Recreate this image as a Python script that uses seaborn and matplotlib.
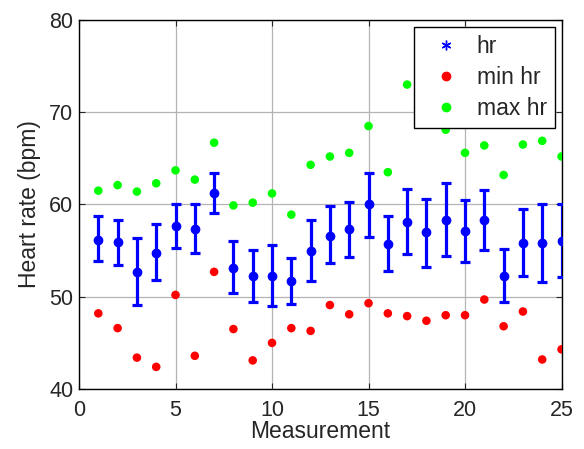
import numpy as np
import pandas as pd
import matplotlib
matplotlib.use("Agg")
import matplotlib.pyplot as plt
import seaborn as sns
from matplotlib.lines import Line2D

measurement = list(range(1, 26))
hr = [56.2, 55.9, 52.7, 54.7, 57.7, 57.3, 61.2, 53.1, 52.2, 52.3, 51.7, 55.0,
      56.6, 57.3, 60.0, 55.7, 58.1, 57.0, 58.3, 57.1, 58.3, 52.3, 55.8, 55.8, 56.0]
hr_upper = [58.7, 58.3, 56.4, 57.9, 60.1, 60.0, 63.4, 56.0, 55.1, 55.6, 54.2, 58.3,
            59.8, 60.3, 63.4, 58.7, 61.7, 60.6, 62.3, 60.5, 61.6, 55.2, 59.5, 60.0, 60.1]
hr_lower = [53.9, 53.4, 49.1, 51.8, 55.3, 54.7, 59.1, 50.4, 49.4, 49.0, 49.2, 51.7,
            53.7, 54.3, 56.5, 52.8, 54.6, 53.2, 54.4, 53.8, 55.1, 49.4, 52.3, 51.6, 52.1]
min_hr = [48.2, 46.6, 43.4, 42.4, 50.2, 43.6, 52.7, 46.5, 43.1, 45.0, 46.6, 46.3,
          49.1, 48.1, 49.3, 48.2, 47.9, 47.4, 48.0, 48.0, 49.7, 46.8, 48.4, 43.2, 44.3]
max_hr = [61.5, 62.1, 61.4, 62.3, 63.7, 62.7, 66.7, 59.9, 60.2, 61.2, 58.9, 64.3,
          65.2, 65.6, 68.5, 63.5, 73.0, 71.5, 68.1, 65.6, 66.4, 63.2, 66.5, 66.9, 65.2]
xticks = [0, 5, 10, 15, 20, 25]
yticks = [40, 50, 60, 70, 80]

df = pd.DataFrame({"Measurement": measurement, "hr": hr, "lo": hr_lower,
                   "hi": hr_upper, "min hr": min_hr, "max hr": max_hr})

sns.set_theme(style="ticks")
plt.rcParams['font.family'] = ['Liberation Sans', 'DejaVu Sans']

fig = plt.figure(figsize=(5.84, 4.49), dpi=100)
ax = fig.add_axes([0.1353, 0.1336, 0.8262, 0.8219])

ax.grid(True, color="#b4b4b4", linewidth=0.9, zorder=0)
ax.set_axisbelow(True)

yerr = [df["hr"] - df["lo"], df["hi"] - df["hr"]]
ax.errorbar(df["Measurement"], df["hr"], yerr=yerr, fmt="o", color="#0000ff",
            ecolor="#0000ff", elinewidth=2.3, capsize=3.3, capthick=2.3,
            markersize=6, zorder=3)
sns.scatterplot(data=df, x="Measurement", y="min hr", color="#ff0000", s=38,
                edgecolor="none", ax=ax, zorder=3)
sns.scatterplot(data=df, x="Measurement", y="max hr", color="#00ff00", s=38,
                edgecolor="none", ax=ax, zorder=3)

ax.set_xlim(0, 25)
ax.set_ylim(40, 80)
ax.set_xticks(xticks)
ax.set_yticks(yticks)
ax.tick_params(direction="in", labelsize=15.5, length=4, width=0.8, top=True,
               right=True, pad=4)
ax.tick_params(axis="x", pad=8)
for s in ax.spines.values():
    s.set_color("black")
    s.set_linewidth(1.0)
ax.set_xlabel("Measurement", fontsize=16.5, labelpad=-1)
ax.set_ylabel("Heart rate (bpm)", fontsize=16.5, labelpad=6)

handles = [
    Line2D([], [], linestyle="none", marker=(6, 2, 0), color="#0000ff",
           markersize=7, markeredgewidth=1.0),
    Line2D([], [], linestyle="none", marker="o", color="#ff0000", markersize=6),
    Line2D([], [], linestyle="none", marker="o", color="#00ff00", markersize=6),
]
leg = ax.legend(handles, ["hr", "min hr", "max hr"], loc="upper right",
                bbox_to_anchor=(0.9865, 0.981), borderaxespad=0, fontsize=16.5,
                frameon=True, fancybox=False, framealpha=1, edgecolor="black",
                borderpad=0.35, labelspacing=0.35, handletextpad=0.3,
                handlelength=2.1)
leg.get_frame().set_linewidth(1.0)
leg.set_zorder(10)

fig.savefig("out.png", dpi=100)
